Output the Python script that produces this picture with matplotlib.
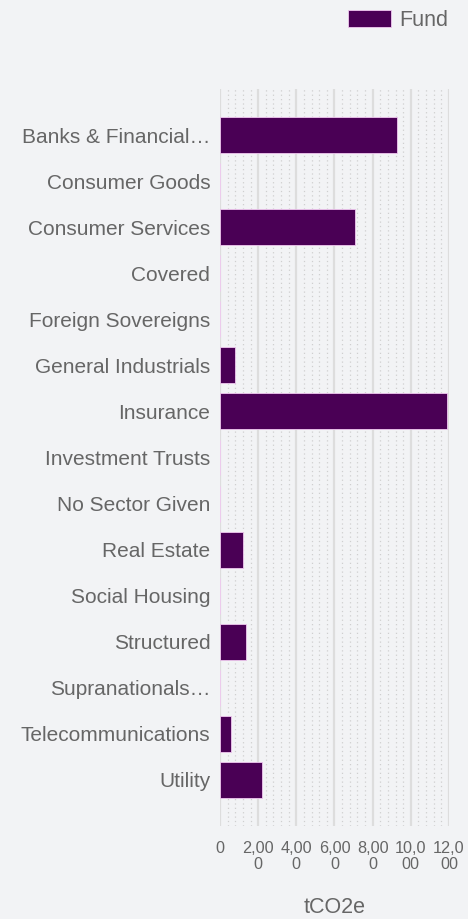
import matplotlib
matplotlib.use("Agg")
import matplotlib.pyplot as plt
from matplotlib.ticker import MultipleLocator
from matplotlib.patches import Patch

categories = ["Banks & Financial…", "Consumer Goods", "Consumer Services", "Covered",
              "Foreign Sovereigns", "General Industrials", "Insurance", "Investment Trusts",
              "No Sector Given", "Real Estate", "Social Housing", "Structured",
              "Supranationals…", "Telecommunications", "Utility"]
fund = [9250, 0, 7050, 0, 0, 800, 11900, 0, 0, 1180, 0, 1350, 0, 600, 2180]
xticks = [0, 2000, 4000, 6000, 8000, 10000, 12000]
xticklabels = ["0", "2,00\n0", "4,00\n0", "6,00\n0", "8,00\n0", "10,0\n00", "12,0\n00"]

bg = "#f2f3f5"
bar_color = "#4a0055"
text_color = "#666666"

plt.rcParams['font.family'] = ['Liberation Sans', 'DejaVu Sans']

fig = plt.figure(figsize=(4.68, 9.19), dpi=100, facecolor=bg)
ax = fig.add_axes([220/468, (919-826)/919, (449-220)/468, (826-89)/919])
ax.set_facecolor(bg)

y = list(range(len(categories)))
ax.barh(y, fund, height=0.78, color=bar_color, edgecolor="#f0c8f0", linewidth=0.6, zorder=3)

ax.set_ylim(len(categories), -1)
ax.set_xlim(0, 12000)
ax.set_yticks(y)
ax.set_yticklabels(categories, fontsize=15, color=text_color)
ax.set_xticks(xticks)
ax.set_xticklabels(xticklabels, fontsize=11.7, color=text_color, linespacing=1.1)
ax.xaxis.set_minor_locator(MultipleLocator(400))
ax.tick_params(axis='y', length=0, pad=7)
ax.tick_params(axis='x', which='both', length=0, pad=11)
ax.grid(axis='x', which='major', color='#dddddd', linewidth=1.6, zorder=1)
ax.grid(axis='x', which='minor', color='#cfcfcf', linewidth=0.9, linestyle=(0, (1, 2.5)), zorder=1)
for s in ax.spines.values():
    s.set_visible(False)

ax.set_xlabel("tCO2e", fontsize=15.5, color=text_color, labelpad=18)

handles = [Patch(facecolor=bar_color, edgecolor="#f0c8f0", linewidth=0.6, label="Fund")]
fig.legend(handles=handles, loc='upper right', bbox_to_anchor=(465/468, 1 + 7/919),
           frameon=False, fontsize=15.5, labelcolor=text_color,
           handlelength=2.0, handleheight=0.85, handletextpad=0.35, borderpad=0.3)

fig.savefig("out.png", dpi=100, facecolor=bg)
